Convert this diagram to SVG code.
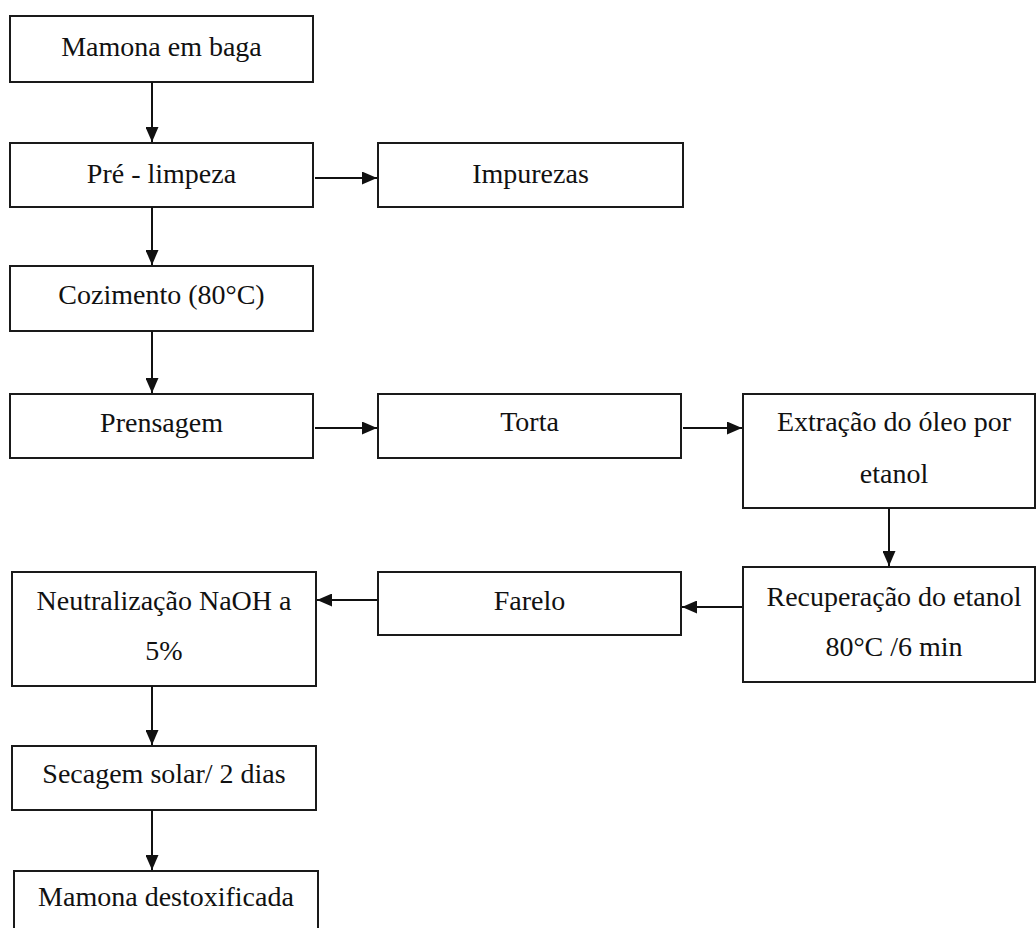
<svg xmlns="http://www.w3.org/2000/svg" width="1036" height="928" viewBox="0 0 1036 928">
<style>
rect.box{fill:#fff;stroke:#1a1a1a;stroke-width:2}
text{font-family:"Liberation Serif","Times New Roman",serif;font-size:28px;fill:#111;text-anchor:middle}
.conn line{stroke:#111;stroke-width:2;marker-end:url(#ah)}
</style>
<defs>
<marker id="ah" markerUnits="userSpaceOnUse" markerWidth="15" markerHeight="13" refX="15" refY="6.5" orient="auto">
<path d="M0,0 L15,6.5 L0,13 Z" fill="#111"/>
</marker>
</defs>
<rect width="1036" height="928" fill="#fff"/>
<g id="n1"><rect class="box" x="10" y="16" width="303" height="66"/><text x="161.5" y="56">Mamona em baga</text></g>
<g id="n2"><rect class="box" x="10" y="143" width="303" height="64"/><text x="161.5" y="183">Pré - limpeza</text></g>
<g id="n3"><rect class="box" x="378" y="143" width="305" height="64"/><text x="530.5" y="183">Impurezas</text></g>
<g id="n4"><rect class="box" x="10" y="266" width="303" height="65"/><text x="161.5" y="304">Cozimento (80°C)</text></g>
<g id="n5"><rect class="box" x="10" y="394" width="303" height="64"/><text x="161.5" y="432">Prensagem</text></g>
<g id="n6"><rect class="box" x="378" y="394" width="303" height="64"/><text x="529.5" y="431">Torta</text></g>
<g id="n7"><rect class="box" x="743" y="394" width="292" height="114"/><text x="894" y="431">Extração do óleo por</text><text x="894" y="483">etanol</text></g>
<g id="n8"><rect class="box" x="743" y="567" width="292" height="115"/><text x="894" y="606">Recuperação do etanol</text><text x="894" y="656">80°C /6 min</text></g>
<g id="n9"><rect class="box" x="378" y="572" width="303" height="63"/><text x="529.5" y="610">Farelo</text></g>
<g id="n10"><rect class="box" x="12" y="572" width="304" height="114"/><text x="164" y="610">Neutralização NaOH a</text><text x="164" y="660">5%</text></g>
<g id="n11"><rect class="box" x="12" y="746" width="304" height="64"/><text x="164" y="783">Secagem solar/ 2 dias</text></g>
<g id="n12"><rect class="box" x="14" y="871" width="304" height="70"/><text x="166" y="906">Mamona destoxificada</text></g>
<g class="conn" id="connectors">
<line x1="152" y1="82" x2="152" y2="142"/>
<line x1="315" y1="178" x2="377" y2="178"/>
<line x1="152" y1="207" x2="152" y2="265"/>
<line x1="152" y1="331" x2="152" y2="393"/>
<line x1="315" y1="428" x2="377" y2="428"/>
<line x1="683" y1="428" x2="742" y2="428"/>
<line x1="889" y1="508" x2="889" y2="566"/>
<line x1="742" y1="607" x2="682" y2="607"/>
<line x1="377" y1="600" x2="317" y2="600"/>
<line x1="152" y1="686" x2="152" y2="745"/>
<line x1="152" y1="810" x2="152" y2="870"/>
</g>
</svg>
